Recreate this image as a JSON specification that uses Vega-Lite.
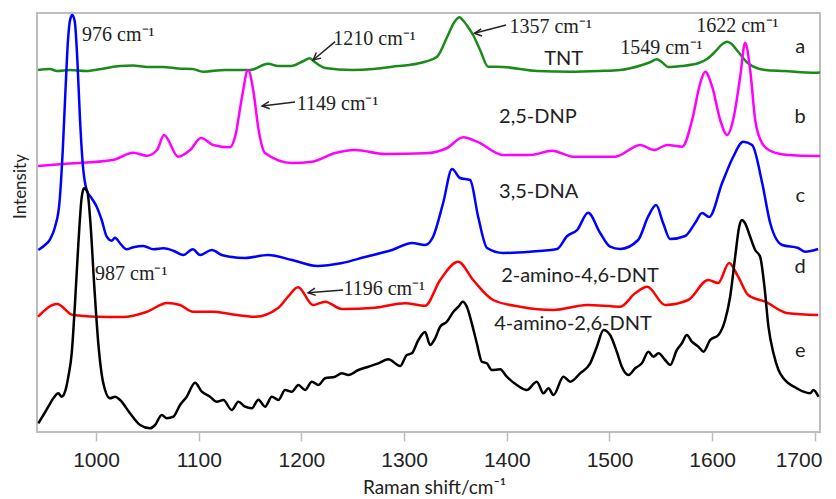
{
  "$schema": "https://vega.github.io/schema/vega-lite/v6.json",
  "width": 783,
  "height": 419,
  "autosize": {"type": "none"},
  "padding": {"left": 37, "top": 13, "right": 16, "bottom": 67},
  "background": "white",
  "config": {"view": {"stroke": "#bdbdbd", "strokeWidth": 2}},
  "datasets": {
    "spectra": [
      {"trace": "a", "shift": 943.5, "intensity": 362}, {"trace": "a", "shift": 955, "intensity": 363}, {"trace": "a", "shift": 962, "intensity": 361}, {"trace": "a", "shift": 975, "intensity": 362}, {"trace": "a", "shift": 990, "intensity": 361}, {"trace": "a", "shift": 1005, "intensity": 363}, {"trace": "a", "shift": 1023.4, "intensity": 366}, {"trace": "a", "shift": 1036, "intensity": 366.5}, {"trace": "a", "shift": 1050, "intensity": 365}, {"trace": "a", "shift": 1065, "intensity": 365}, {"trace": "a", "shift": 1080, "intensity": 363.5}, {"trace": "a", "shift": 1094, "intensity": 363}, {"trace": "a", "shift": 1104.2, "intensity": 360.3}, {"trace": "a", "shift": 1125.6, "intensity": 362}, {"trace": "a", "shift": 1150, "intensity": 362}, {"trace": "a", "shift": 1167.5, "intensity": 368.3}, {"trace": "a", "shift": 1177.3, "intensity": 366}, {"trace": "a", "shift": 1190, "intensity": 366}, {"trace": "a", "shift": 1202, "intensity": 371}, {"trace": "a", "shift": 1208, "intensity": 373.7}, {"trace": "a", "shift": 1213, "intensity": 370}, {"trace": "a", "shift": 1217, "intensity": 367}, {"trace": "a", "shift": 1223, "intensity": 364}, {"trace": "a", "shift": 1249.3, "intensity": 362}, {"trace": "a", "shift": 1270, "intensity": 363}, {"trace": "a", "shift": 1288.3, "intensity": 365.3}, {"trace": "a", "shift": 1305, "intensity": 367}, {"trace": "a", "shift": 1320.4, "intensity": 370.3}, {"trace": "a", "shift": 1332.1, "intensity": 375.3}, {"trace": "a", "shift": 1342, "intensity": 395.3}, {"trace": "a", "shift": 1349, "intensity": 410}, {"trace": "a", "shift": 1354, "intensity": 414.7}, {"trace": "a", "shift": 1357, "intensity": 412}, {"trace": "a", "shift": 1362, "intensity": 405.3}, {"trace": "a", "shift": 1367.2, "intensity": 397}, {"trace": "a", "shift": 1374, "intensity": 382}, {"trace": "a", "shift": 1381.8, "intensity": 365.3}, {"trace": "a", "shift": 1396.4, "intensity": 365}, {"trace": "a", "shift": 1429.5, "intensity": 361}, {"trace": "a", "shift": 1461.7, "intensity": 360.3}, {"trace": "a", "shift": 1490, "intensity": 361}, {"trace": "a", "shift": 1510.4, "intensity": 362}, {"trace": "a", "shift": 1531.8, "intensity": 367}, {"trace": "a", "shift": 1540, "intensity": 370}, {"trace": "a", "shift": 1546, "intensity": 372.7}, {"trace": "a", "shift": 1551, "intensity": 370}, {"trace": "a", "shift": 1557, "intensity": 365}, {"trace": "a", "shift": 1570, "intensity": 366}, {"trace": "a", "shift": 1586.3, "intensity": 368.7}, {"trace": "a", "shift": 1595, "intensity": 373}, {"trace": "a", "shift": 1602.9, "intensity": 380.3}, {"trace": "a", "shift": 1610, "intensity": 388}, {"trace": "a", "shift": 1614.6, "intensity": 390.3}, {"trace": "a", "shift": 1619, "intensity": 388}, {"trace": "a", "shift": 1625.3, "intensity": 380.3}, {"trace": "a", "shift": 1635, "intensity": 368.7}, {"trace": "a", "shift": 1651.6, "intensity": 362}, {"trace": "a", "shift": 1670, "intensity": 361}, {"trace": "a", "shift": 1700.3, "intensity": 359.3}, {"trace": "a", "shift": 1705, "intensity": 359.5},

      {"trace": "b", "shift": 943.5, "intensity": 266}, {"trace": "b", "shift": 967.9, "intensity": 268}, {"trace": "b", "shift": 1016.6, "intensity": 272}, {"trace": "b", "shift": 1036, "intensity": 279.3}, {"trace": "b", "shift": 1049.7, "intensity": 276.3}, {"trace": "b", "shift": 1059.4, "intensity": 282}, {"trace": "b", "shift": 1066.2, "intensity": 297}, {"trace": "b", "shift": 1079.9, "intensity": 275.3}, {"trace": "b", "shift": 1091.6, "intensity": 282}, {"trace": "b", "shift": 1102.3, "intensity": 294}, {"trace": "b", "shift": 1114, "intensity": 287}, {"trace": "b", "shift": 1130.5, "intensity": 284.7}, {"trace": "b", "shift": 1135.4, "intensity": 295.3}, {"trace": "b", "shift": 1142.2, "intensity": 335.3}, {"trace": "b", "shift": 1148, "intensity": 362}, {"trace": "b", "shift": 1153.5, "intensity": 339}, {"trace": "b", "shift": 1157.8, "intensity": 305.3}, {"trace": "b", "shift": 1164.6, "intensity": 279}, {"trace": "b", "shift": 1190.9, "intensity": 269}, {"trace": "b", "shift": 1210.4, "intensity": 270.3}, {"trace": "b", "shift": 1232.8, "intensity": 279}, {"trace": "b", "shift": 1252.3, "intensity": 282}, {"trace": "b", "shift": 1281.5, "intensity": 278}, {"trace": "b", "shift": 1320.4, "intensity": 278.7}, {"trace": "b", "shift": 1341.9, "intensity": 284}, {"trace": "b", "shift": 1357.5, "intensity": 294.7}, {"trace": "b", "shift": 1371.1, "intensity": 290.3}, {"trace": "b", "shift": 1396.4, "intensity": 277}, {"trace": "b", "shift": 1422.7, "intensity": 277}, {"trace": "b", "shift": 1444.1, "intensity": 281.3}, {"trace": "b", "shift": 1464.6, "intensity": 275.3}, {"trace": "b", "shift": 1505.5, "intensity": 275.3}, {"trace": "b", "shift": 1529.9, "intensity": 287}, {"trace": "b", "shift": 1543.5, "intensity": 282}, {"trace": "b", "shift": 1556.2, "intensity": 287}, {"trace": "b", "shift": 1570.8, "intensity": 285.3}, {"trace": "b", "shift": 1580.5, "intensity": 312}, {"trace": "b", "shift": 1588.3, "intensity": 348.7}, {"trace": "b", "shift": 1593.2, "intensity": 360.3}, {"trace": "b", "shift": 1600, "intensity": 345.3}, {"trace": "b", "shift": 1607.8, "intensity": 312}, {"trace": "b", "shift": 1614.6, "intensity": 297}, {"trace": "b", "shift": 1620.4, "intensity": 312}, {"trace": "b", "shift": 1627.3, "intensity": 355.3}, {"trace": "b", "shift": 1632.1, "intensity": 389.3}, {"trace": "b", "shift": 1637, "intensity": 362}, {"trace": "b", "shift": 1641.9, "intensity": 312}, {"trace": "b", "shift": 1648.7, "intensity": 288.7}, {"trace": "b", "shift": 1658.4, "intensity": 280.3}, {"trace": "b", "shift": 1674, "intensity": 277}, {"trace": "b", "shift": 1700.3, "intensity": 276}, {"trace": "b", "shift": 1705, "intensity": 276},

      {"trace": "c", "shift": 943.8, "intensity": 182}, {"trace": "c", "shift": 950.3, "intensity": 187}, {"trace": "c", "shift": 955.2, "intensity": 192.7}, {"trace": "c", "shift": 960.1, "intensity": 205.3}, {"trace": "c", "shift": 964.3, "intensity": 228.7}, {"trace": "c", "shift": 967.6, "intensity": 282}, {"trace": "c", "shift": 970.1, "intensity": 338.7}, {"trace": "c", "shift": 972.7, "intensity": 392}, {"trace": "c", "shift": 974.7, "intensity": 412}, {"trace": "c", "shift": 976.9, "intensity": 417}, {"trace": "c", "shift": 979.3, "intensity": 410.3}, {"trace": "c", "shift": 981.8, "intensity": 372}, {"trace": "c", "shift": 984.4, "intensity": 312}, {"trace": "c", "shift": 987, "intensity": 268.7}, {"trace": "c", "shift": 990.9, "intensity": 242}, {"trace": "c", "shift": 995.8, "intensity": 233.7}, {"trace": "c", "shift": 1000.6, "intensity": 225.3}, {"trace": "c", "shift": 1005.5, "intensity": 212}, {"trace": "c", "shift": 1010.4, "intensity": 195.3}, {"trace": "c", "shift": 1015.2, "intensity": 191.3}, {"trace": "c", "shift": 1018.5, "intensity": 194.3}, {"trace": "c", "shift": 1023.4, "intensity": 188.7}, {"trace": "c", "shift": 1029.9, "intensity": 182.7}, {"trace": "c", "shift": 1036.3, "intensity": 184.7}, {"trace": "c", "shift": 1046.1, "intensity": 186}, {"trace": "c", "shift": 1055.8, "intensity": 182.7}, {"trace": "c", "shift": 1065.6, "intensity": 183.7}, {"trace": "c", "shift": 1075.3, "intensity": 181.3}, {"trace": "c", "shift": 1085, "intensity": 177}, {"trace": "c", "shift": 1094.2, "intensity": 182.7}, {"trace": "c", "shift": 1101.3, "intensity": 177}, {"trace": "c", "shift": 1112.7, "intensity": 182}, {"trace": "c", "shift": 1122.4, "intensity": 177}, {"trace": "c", "shift": 1130.5, "intensity": 175.3}, {"trace": "c", "shift": 1145.1, "intensity": 174}, {"trace": "c", "shift": 1167.5, "intensity": 177}, {"trace": "c", "shift": 1190.9, "intensity": 172}, {"trace": "c", "shift": 1215.3, "intensity": 166}, {"trace": "c", "shift": 1239.6, "intensity": 169}, {"trace": "c", "shift": 1262, "intensity": 175}, {"trace": "c", "shift": 1288.3, "intensity": 182}, {"trace": "c", "shift": 1307.8, "intensity": 189}, {"trace": "c", "shift": 1320.4, "intensity": 187}, {"trace": "c", "shift": 1328.2, "intensity": 195.3}, {"trace": "c", "shift": 1338, "intensity": 229}, {"trace": "c", "shift": 1346.7, "intensity": 263}, {"trace": "c", "shift": 1354.5, "intensity": 254}, {"trace": "c", "shift": 1364.3, "intensity": 252}, {"trace": "c", "shift": 1372.1, "intensity": 215.3}, {"trace": "c", "shift": 1380.8, "intensity": 184}, {"trace": "c", "shift": 1396.4, "intensity": 179}, {"trace": "c", "shift": 1422.7, "intensity": 180.3}, {"trace": "c", "shift": 1449, "intensity": 183}, {"trace": "c", "shift": 1458.8, "intensity": 196}, {"trace": "c", "shift": 1468.5, "intensity": 202}, {"trace": "c", "shift": 1479.2, "intensity": 219.3}, {"trace": "c", "shift": 1490.9, "intensity": 199}, {"trace": "c", "shift": 1500.6, "intensity": 185.3}, {"trace": "c", "shift": 1510.4, "intensity": 183}, {"trace": "c", "shift": 1527.9, "intensity": 192}, {"trace": "c", "shift": 1537.6, "intensity": 215.3}, {"trace": "c", "shift": 1545.4, "intensity": 227}, {"trace": "c", "shift": 1552.2, "intensity": 209}, {"trace": "c", "shift": 1559.1, "intensity": 193}, {"trace": "c", "shift": 1573.7, "intensity": 196}, {"trace": "c", "shift": 1583.4, "intensity": 209}, {"trace": "c", "shift": 1590.2, "intensity": 219}, {"trace": "c", "shift": 1597.1, "intensity": 215}, {"trace": "c", "shift": 1609.7, "intensity": 249}, {"trace": "c", "shift": 1620.4, "intensity": 275}, {"trace": "c", "shift": 1630.2, "intensity": 290.3}, {"trace": "c", "shift": 1638.9, "intensity": 287}, {"trace": "c", "shift": 1648.7, "intensity": 249}, {"trace": "c", "shift": 1656.5, "intensity": 209}, {"trace": "c", "shift": 1668.2, "intensity": 187}, {"trace": "c", "shift": 1683.7, "intensity": 184}, {"trace": "c", "shift": 1690.6, "intensity": 180.3}, {"trace": "c", "shift": 1703.2, "intensity": 183},

      {"trace": "d", "shift": 943.5, "intensity": 115.3}, {"trace": "d", "shift": 962, "intensity": 128}, {"trace": "d", "shift": 977.6, "intensity": 117}, {"trace": "d", "shift": 1001, "intensity": 115.3}, {"trace": "d", "shift": 1026.3, "intensity": 115}, {"trace": "d", "shift": 1049.7, "intensity": 120.3}, {"trace": "d", "shift": 1069.2, "intensity": 129}, {"trace": "d", "shift": 1081.8, "intensity": 127}, {"trace": "d", "shift": 1094.5, "intensity": 120.3}, {"trace": "d", "shift": 1114, "intensity": 120.3}, {"trace": "d", "shift": 1130.5, "intensity": 118}, {"trace": "d", "shift": 1154.9, "intensity": 115.3}, {"trace": "d", "shift": 1177.3, "intensity": 124}, {"trace": "d", "shift": 1187, "intensity": 135.3}, {"trace": "d", "shift": 1196.7, "intensity": 144.7}, {"trace": "d", "shift": 1211.4, "intensity": 127}, {"trace": "d", "shift": 1223, "intensity": 130.3}, {"trace": "d", "shift": 1239.6, "intensity": 123}, {"trace": "d", "shift": 1271.7, "intensity": 124.3}, {"trace": "d", "shift": 1301, "intensity": 128.7}, {"trace": "d", "shift": 1320.4, "intensity": 126.3}, {"trace": "d", "shift": 1335.1, "intensity": 152}, {"trace": "d", "shift": 1352.6, "intensity": 170.3}, {"trace": "d", "shift": 1367.2, "intensity": 152}, {"trace": "d", "shift": 1386.7, "intensity": 132}, {"trace": "d", "shift": 1413, "intensity": 125.3}, {"trace": "d", "shift": 1445.1, "intensity": 122}, {"trace": "d", "shift": 1478.2, "intensity": 127}, {"trace": "d", "shift": 1510.4, "intensity": 125.3}, {"trace": "d", "shift": 1525, "intensity": 138.7}, {"trace": "d", "shift": 1536.7, "intensity": 145.3}, {"trace": "d", "shift": 1554.2, "intensity": 127}, {"trace": "d", "shift": 1576.6, "intensity": 132}, {"trace": "d", "shift": 1596.1, "intensity": 152}, {"trace": "d", "shift": 1605.8, "intensity": 149}, {"trace": "d", "shift": 1616.5, "intensity": 169}, {"trace": "d", "shift": 1625.3, "intensity": 155.3}, {"trace": "d", "shift": 1635, "intensity": 137}, {"trace": "d", "shift": 1651.6, "intensity": 130.3}, {"trace": "d", "shift": 1674, "intensity": 118.7}, {"trace": "d", "shift": 1703.2, "intensity": 117},

      {"trace": "e", "shift": 943.8, "intensity": 8.7}, {"trace": "e", "shift": 948.7, "intensity": 17}, {"trace": "e", "shift": 953.5, "intensity": 25.3}, {"trace": "e", "shift": 958.4, "intensity": 33.7}, {"trace": "e", "shift": 963.3, "intensity": 38.7}, {"trace": "e", "shift": 966.5, "intensity": 35.3}, {"trace": "e", "shift": 969.8, "intensity": 40.3}, {"trace": "e", "shift": 973, "intensity": 55.3}, {"trace": "e", "shift": 976.3, "intensity": 78.7}, {"trace": "e", "shift": 979.5, "intensity": 128.7}, {"trace": "e", "shift": 982.8, "intensity": 188.7}, {"trace": "e", "shift": 986.1, "intensity": 235.3}, {"trace": "e", "shift": 988.3, "intensity": 243.7}, {"trace": "e", "shift": 991.5, "intensity": 240.3}, {"trace": "e", "shift": 994.8, "intensity": 205.3}, {"trace": "e", "shift": 998.1, "intensity": 148.7}, {"trace": "e", "shift": 1002.2, "intensity": 88.7}, {"trace": "e", "shift": 1007.1, "intensity": 48.7}, {"trace": "e", "shift": 1013.6, "intensity": 33.7}, {"trace": "e", "shift": 1018.5, "intensity": 35.3}, {"trace": "e", "shift": 1023.4, "intensity": 32}, {"trace": "e", "shift": 1033.1, "intensity": 18.7}, {"trace": "e", "shift": 1042.9, "intensity": 7}, {"trace": "e", "shift": 1052.6, "intensity": 3.7}, {"trace": "e", "shift": 1057.5, "intensity": 7}, {"trace": "e", "shift": 1064, "intensity": 17}, {"trace": "e", "shift": 1068.9, "intensity": 13.7}, {"trace": "e", "shift": 1075.3, "intensity": 15.3}, {"trace": "e", "shift": 1081.8, "intensity": 27}, {"trace": "e", "shift": 1088.3, "intensity": 35.3}, {"trace": "e", "shift": 1096.4, "intensity": 49.3}, {"trace": "e", "shift": 1103, "intensity": 40.3}, {"trace": "e", "shift": 1111, "intensity": 35.3}, {"trace": "e", "shift": 1117.6, "intensity": 30.3}, {"trace": "e", "shift": 1124, "intensity": 32}, {"trace": "e", "shift": 1132.2, "intensity": 22}, {"trace": "e", "shift": 1138.6, "intensity": 30.3}, {"trace": "e", "shift": 1145.1, "intensity": 25.3}, {"trace": "e", "shift": 1151.6, "intensity": 23.7}, {"trace": "e", "shift": 1158.1, "intensity": 32.3}, {"trace": "e", "shift": 1164.6, "intensity": 25.3}, {"trace": "e", "shift": 1171.1, "intensity": 35.3}, {"trace": "e", "shift": 1177.6, "intensity": 32}, {"trace": "e", "shift": 1184.1, "intensity": 42}, {"trace": "e", "shift": 1190.6, "intensity": 40.3}, {"trace": "e", "shift": 1197.1, "intensity": 47}, {"trace": "e", "shift": 1203.6, "intensity": 42}, {"trace": "e", "shift": 1210.1, "intensity": 50.3}, {"trace": "e", "shift": 1216.5, "intensity": 47}, {"trace": "e", "shift": 1223, "intensity": 53.7}, {"trace": "e", "shift": 1232.8, "intensity": 55.3}, {"trace": "e", "shift": 1239.3, "intensity": 58.7}, {"trace": "e", "shift": 1245.7, "intensity": 57}, {"trace": "e", "shift": 1255.5, "intensity": 62}, {"trace": "e", "shift": 1265.2, "intensity": 65.3}, {"trace": "e", "shift": 1274.9, "intensity": 68.7}, {"trace": "e", "shift": 1284.7, "intensity": 72.7}, {"trace": "e", "shift": 1296.1, "intensity": 66}, {"trace": "e", "shift": 1302.6, "intensity": 77}, {"trace": "e", "shift": 1307.5, "intensity": 78.7}, {"trace": "e", "shift": 1313.9, "intensity": 92}, {"trace": "e", "shift": 1320.4, "intensity": 100}, {"trace": "e", "shift": 1325.3, "intensity": 87}, {"trace": "e", "shift": 1330.2, "intensity": 93.7}, {"trace": "e", "shift": 1335.1, "intensity": 105.3}, {"trace": "e", "shift": 1341.6, "intensity": 110.3}, {"trace": "e", "shift": 1348, "intensity": 120.3}, {"trace": "e", "shift": 1352.9, "intensity": 125.3}, {"trace": "e", "shift": 1357.2, "intensity": 130.3}, {"trace": "e", "shift": 1361.1, "intensity": 125.3}, {"trace": "e", "shift": 1365.9, "intensity": 108.7}, {"trace": "e", "shift": 1370.8, "intensity": 88.7}, {"trace": "e", "shift": 1375.7, "intensity": 70.3}, {"trace": "e", "shift": 1380.5, "intensity": 68.7}, {"trace": "e", "shift": 1385.4, "intensity": 62}, {"trace": "e", "shift": 1393.5, "intensity": 62.7}, {"trace": "e", "shift": 1400, "intensity": 55.3}, {"trace": "e", "shift": 1409.8, "intensity": 47}, {"trace": "e", "shift": 1419.5, "intensity": 42}, {"trace": "e", "shift": 1429.2, "intensity": 50.3}, {"trace": "e", "shift": 1435.7, "intensity": 38.7}, {"trace": "e", "shift": 1440.6, "intensity": 43.7}, {"trace": "e", "shift": 1445.4, "intensity": 37}, {"trace": "e", "shift": 1455.2, "intensity": 55.3}, {"trace": "e", "shift": 1461.7, "intensity": 50.3}, {"trace": "e", "shift": 1471.4, "intensity": 58.7}, {"trace": "e", "shift": 1481.2, "intensity": 68.7}, {"trace": "e", "shift": 1487.7, "intensity": 85.3}, {"trace": "e", "shift": 1494.2, "intensity": 102}, {"trace": "e", "shift": 1500.6, "intensity": 97}, {"trace": "e", "shift": 1507.1, "intensity": 80.3}, {"trace": "e", "shift": 1512, "intensity": 65.3}, {"trace": "e", "shift": 1518.5, "intensity": 57}, {"trace": "e", "shift": 1525, "intensity": 63.7}, {"trace": "e", "shift": 1531.5, "intensity": 68.7}, {"trace": "e", "shift": 1537.9, "intensity": 80.3}, {"trace": "e", "shift": 1542.8, "intensity": 75.3}, {"trace": "e", "shift": 1547.7, "intensity": 78.7}, {"trace": "e", "shift": 1554.2, "intensity": 72}, {"trace": "e", "shift": 1559.1, "intensity": 67}, {"trace": "e", "shift": 1565.6, "intensity": 82}, {"trace": "e", "shift": 1570.5, "intensity": 88.7}, {"trace": "e", "shift": 1575.3, "intensity": 97}, {"trace": "e", "shift": 1580.2, "intensity": 90.3}, {"trace": "e", "shift": 1586.6, "intensity": 85.3}, {"trace": "e", "shift": 1591.5, "intensity": 80.3}, {"trace": "e", "shift": 1598, "intensity": 92}, {"trace": "e", "shift": 1606.1, "intensity": 97}, {"trace": "e", "shift": 1612.6, "intensity": 112}, {"trace": "e", "shift": 1617.5, "intensity": 135.3}, {"trace": "e", "shift": 1622.4, "intensity": 175.3}, {"trace": "e", "shift": 1626.3, "intensity": 205.3}, {"trace": "e", "shift": 1628.9, "intensity": 212}, {"trace": "e", "shift": 1632.1, "intensity": 208.7}, {"trace": "e", "shift": 1637, "intensity": 195.3}, {"trace": "e", "shift": 1641.9, "intensity": 182}, {"trace": "e", "shift": 1646.7, "intensity": 175.3}, {"trace": "e", "shift": 1650.9, "intensity": 145.3}, {"trace": "e", "shift": 1654.8, "intensity": 105.3}, {"trace": "e", "shift": 1659.7, "intensity": 78.7}, {"trace": "e", "shift": 1664.6, "intensity": 62}, {"trace": "e", "shift": 1669.4, "intensity": 53.7}, {"trace": "e", "shift": 1674.3, "intensity": 48.7}, {"trace": "e", "shift": 1682.4, "intensity": 43.7}, {"trace": "e", "shift": 1688.9, "intensity": 40.3}, {"trace": "e", "shift": 1695.4, "intensity": 38.7}, {"trace": "e", "shift": 1698.6, "intensity": 42}, {"trace": "e", "shift": 1703.5, "intensity": 35.3}
    ],
    "peaks": [
      {"label": "976 cm⁻¹", "shift": 986.4, "intensity": 391.3},
      {"label": "1210 cm⁻¹", "shift": 1231.1, "intensity": 387},
      {"label": "1149 cm⁻¹", "shift": 1195.5, "intensity": 322},
      {"label": "1357 cm⁻¹", "shift": 1402.6, "intensity": 398.7},
      {"label": "1549 cm⁻¹", "shift": 1510.4, "intensity": 378},
      {"label": "1622 cm⁻¹", "shift": 1584.4, "intensity": 400.3},
      {"label": "987 cm⁻¹", "shift": 999, "intensity": 152.5},
      {"label": "1196 cm⁻¹", "shift": 1240.9, "intensity": 137}
    ],
    "arrows": [
      {"peak": "1210", "shift": 1232.8, "intensity": 390.3, "shift2": 1211.4, "intensity2": 372},
      {"peak": "1149", "shift": 1193.8, "intensity": 330, "shift2": 1161.7, "intensity2": 326},
      {"peak": "1357", "shift": 1399.3, "intensity": 407, "shift2": 1368.5, "intensity2": 398.7},
      {"peak": "1196", "shift": 1240.6, "intensity": 142, "shift2": 1206.5, "intensity2": 139.3}
    ],
    "names": [
      {"name": "TNT", "shift": 1436.4, "intensity": 367},
      {"name": "2,5-DNP", "shift": 1392.5, "intensity": 308.7},
      {"name": "3,5-DNA", "shift": 1392.5, "intensity": 233.7},
      {"name": "2-amino-4,6-DNT", "shift": 1394.5, "intensity": 150.3},
      {"name": "4-amino-2,6-DNT", "shift": 1387.7, "intensity": 102}
    ],
    "letters": [
      {"tag": "a", "shift": 1685.7, "intensity": 378.7},
      {"tag": "b", "shift": 1685.7, "intensity": 309},
      {"tag": "c", "shift": 1685.7, "intensity": 230.3},
      {"tag": "d", "shift": 1685.7, "intensity": 158.7},
      {"tag": "e", "shift": 1685.7, "intensity": 74.7}
    ]
  },
  "layer": [
    {
      "data": {"name": "spectra"},
      "mark": {"type": "line", "strokeWidth": 2.5, "strokeJoin": "round", "interpolate": "monotone", "clip": true},
      "encoding": {
        "x": {
          "field": "shift", "type": "quantitative",
          "scale": {"domain": [942.5, 1705], "nice": false, "zero": false},
          "axis": {
            "title": "Raman shift/cm⁻¹",
            "values": [1000, 1100, 1200, 1300, 1400, 1500, 1600, 1700],
            "format": "d",
            "grid": false, "domain": false,
            "tickColor": "#bdbdbd", "tickWidth": 1.5, "tickSize": 9,
            "labelFont": "Liberation Sans", "labelFontSize": 21, "labelColor": "#222222", "labelPadding": 8,
            "labelFlush": 10, "labelFlushOffset": 7, "labelOverlap": false,
            "titleFont": "Lato", "titleFontSize": 19, "titleFontWeight": "normal", "titleColor": "#222222",
            "titleBaseline": "alphabetic", "titleAlign": "center", "titleX": 397, "titleY": 61
          }
        },
        "y": {
          "field": "intensity", "type": "quantitative",
          "scale": {"domain": [0, 419], "nice": false, "zero": false},
          "axis": {
            "title": "Intensity", "labels": false, "ticks": false, "domain": false, "grid": false,
            "titleFont": "Lato", "titleFontSize": 17, "titleFontWeight": "normal", "titleColor": "#222222",
            "titleAngle": 270, "titleBaseline": "alphabetic", "titleAlign": "center", "titleX": -12, "titleY": 173
          }
        },
        "color": {
          "field": "trace", "type": "nominal",
          "scale": {"domain": ["a", "b", "c", "d", "e"], "range": ["#1a8a1a", "#ff00ff", "#0000ff", "#ff0000", "#000000"]},
          "legend": null
        }
      }
    },
    {
      "data": {"name": "peaks"},
      "mark": {"type": "text", "align": "left", "baseline": "alphabetic", "font": "Liberation Serif", "fontSize": 20, "color": "#222222"},
      "encoding": {
        "x": {"field": "shift", "type": "quantitative"},
        "y": {"field": "intensity", "type": "quantitative"},
        "text": {"field": "label"}
      }
    },
    {
      "data": {"name": "arrows"},
      "mark": {"type": "rule", "color": "#222222", "strokeWidth": 1.5},
      "encoding": {
        "x": {"field": "shift", "type": "quantitative"},
        "y": {"field": "intensity", "type": "quantitative"},
        "x2": {"field": "shift2"},
        "y2": {"field": "intensity2"}
      }
    },
    {
      "data": {"name": "arrows"},
      "transform": [{"filter": "datum.peak !== '1210'"}],
      "mark": {"type": "point", "shape": "M -0.45 0.9 L 0 0 L 0.45 0.9", "filled": false, "stroke": "#222222", "strokeWidth": 1.5, "size": 260, "angle": 263, "opacity": 1},
      "encoding": {
        "x": {"field": "shift2", "type": "quantitative"},
        "y": {"field": "intensity2", "type": "quantitative"}
      }
    },
    {
      "data": {"name": "arrows"},
      "transform": [{"filter": "datum.peak === '1210'"}],
      "mark": {"type": "point", "shape": "M -0.45 0.9 L 0 0 L 0.45 0.9", "filled": false, "stroke": "#222222", "strokeWidth": 1.5, "size": 260, "angle": 230, "opacity": 1},
      "encoding": {
        "x": {"field": "shift2", "type": "quantitative"},
        "y": {"field": "intensity2", "type": "quantitative"}
      }
    },
    {
      "data": {"name": "names"},
      "mark": {"type": "text", "align": "left", "baseline": "alphabetic", "font": "Lato", "fontSize": 20, "color": "#222222"},
      "encoding": {
        "x": {"field": "shift", "type": "quantitative"},
        "y": {"field": "intensity", "type": "quantitative"},
        "text": {"field": "name"}
      }
    },
    {
      "data": {"name": "letters"},
      "mark": {"type": "text", "align": "center", "baseline": "alphabetic", "font": "Lato", "fontSize": 20, "color": "#222222"},
      "encoding": {
        "x": {"field": "shift", "type": "quantitative"},
        "y": {"field": "intensity", "type": "quantitative"},
        "text": {"field": "tag"}
      }
    }
  ]
}
